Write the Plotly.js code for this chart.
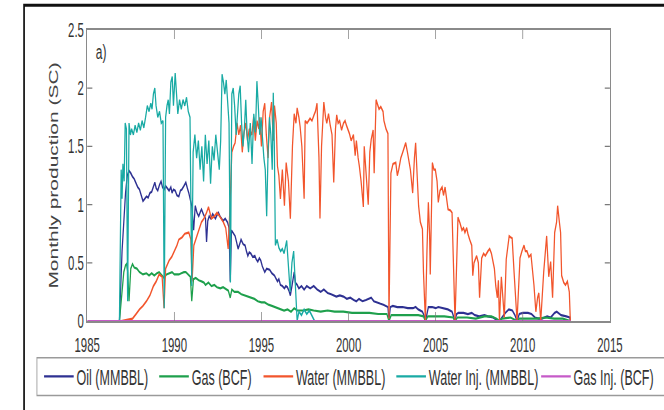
<!DOCTYPE html>
<html>
<head>
<meta charset="utf-8">
<script src="https://cdn.plot.ly/plotly-3.0.1.min.js"></script>
<style>
  html, body { margin: 0; padding: 0; background: #fff; overflow: hidden; }
  #wrap { width: 664px; height: 410px; overflow: hidden; position: relative; background: #fff; }
  /* the figure is laid out wide and then condensed horizontally */
  #chart { width: 1165px; height: 410px; transform: scaleX(0.57); transform-origin: 0 0; }
</style>
</head>
<body>
<div id="wrap"><div id="chart"></div></div>
<script>
// Monthly production, [year, value] pairs (SC units)
const oil = [
  [1986.85,0],[1987.0,0.6],[1987.1,0.85],[1987.2,1.1],[1987.3,1.25],[1987.4,1.29],[1987.5,1.27],[1987.6,1.24],
  [1987.7,1.22],[1987.8,1.18],[1987.9,1.15],[1988.0,1.13],[1988.1,1.08],[1988.2,1.03],[1988.3,1.05],[1988.4,1.07],
  [1988.5,1.06],[1988.6,1.1],[1988.7,1.11],[1988.8,1.16],[1988.88,1.19],[1988.96,1.14],[1989.05,1.12],[1989.15,1.17],
  [1989.24,1.2],[1989.32,1.15],[1989.41,1.13],[1989.5,1.16],[1989.6,1.14],[1989.7,1.12],[1989.8,1.15],[1989.87,1.1],
  [1989.95,1.13],[1990.05,1.12],[1990.15,1.08],[1990.26,1.07],[1990.35,1.12],[1990.43,1.13],[1990.55,1.16],[1990.66,1.19],
  [1990.75,1.14],[1990.83,1.1],[1990.92,1.04],[1991.0,0.99],[1991.11,0.78],[1991.2,0.99],[1991.3,0.93],[1991.4,0.9],
  [1991.5,0.94],[1991.56,0.96],[1991.66,0.92],[1991.79,0.88],[1991.85,0.68],[1991.92,0.86],[1992.0,0.9],[1992.1,0.88],
  [1992.2,0.92],[1992.36,0.88],[1992.45,0.91],[1992.53,0.93],[1992.62,0.9],[1992.7,0.88],[1992.8,0.86],[1992.92,0.88],
  [1993.05,0.85],[1993.14,0.8],[1993.21,0.34],[1993.28,0.78],[1993.38,0.76],[1993.49,0.73],[1993.57,0.68],[1993.66,0.62],
  [1993.75,0.66],[1993.83,0.7],[1993.95,0.66],[1994.06,0.65],[1994.14,0.6],[1994.22,0.56],[1994.3,0.59],[1994.39,0.58],
  [1994.5,0.55],[1994.62,0.56],[1994.7,0.53],[1994.79,0.51],[1994.88,0.54],[1994.96,0.52],[1995.05,0.47],[1995.19,0.42],
  [1995.3,0.45],[1995.47,0.44],[1995.6,0.41],[1995.75,0.39],[1995.85,0.36],[1995.92,0.34],[1996.0,0.36],[1996.09,0.31],
  [1996.2,0.3],[1996.32,0.28],[1996.4,0.3],[1996.49,0.29],[1996.58,0.26],[1996.66,0.22],[1996.75,0.3],[1996.88,0.42],
  [1996.95,0.33],[1997.05,0.31],[1997.15,0.28],[1997.3,0.3],[1997.45,0.27],[1997.6,0.3],[1997.8,0.28],[1998.0,0.3],
  [1998.2,0.27],[1998.4,0.25],[1998.58,0.27],[1998.8,0.24],[1999.0,0.23],[1999.15,0.22],[1999.3,0.21],[1999.5,0.22],
  [1999.71,0.21],[1999.9,0.19],[2000.1,0.2],[2000.3,0.18],[2000.45,0.17],[2000.6,0.19],[2000.8,0.17],[2001.0,0.18],
  [2001.3,0.2],[2001.45,0.17],[2001.6,0.16],[2001.8,0.15],[2002.0,0.14],[2002.15,0.13],[2002.26,0.12],[2002.32,0.01],
  [2002.4,0.12],[2002.54,0.13],[2002.8,0.12],[2003.1,0.12],[2003.4,0.11],[2003.7,0.11],[2003.85,0.12],[2004.0,0.1],
  [2004.24,0.08],[2004.35,0.04],[2004.41,0],[2004.5,0.06],[2004.58,0.12],[2004.8,0.12],[2005.0,0.11],[2005.15,0.12],
  [2005.4,0.11],[2005.7,0.1],[2005.94,0.08],[2006.05,0.03],[2006.11,0],[2006.2,0.06],[2006.3,0.07],[2006.6,0.07],
  [2006.85,0.06],[2007.07,0.07],[2007.25,0.05],[2007.5,0.04],[2007.8,0.05],[2008.0,0.04],[2008.3,0.03],[2008.5,0.01],
  [2008.66,0],[2008.8,0.03],[2009.0,0.07],[2009.2,0.1],[2009.4,0.09],[2009.55,0.05],[2009.67,0],[2009.8,0.06],
  [2010.0,0.07],[2010.3,0.07],[2010.5,0.06],[2010.7,0.03],[2010.9,0.02],[2011.1,0.02],[2011.4,0.04],[2011.6,0.03],
  [2011.83,0.07],[2011.95,0.08],[2012.2,0.05],[2012.5,0.04],[2012.7,0.03],[2012.73,0]
];

const gas = [
  [1986.85,0],[1987.0,0.25],[1987.1,0.42],[1987.2,0.48],[1987.26,0.49],[1987.32,0.43],[1987.4,0.17],[1987.5,0.45],
  [1987.6,0.49],[1987.7,0.46],[1987.85,0.45],[1988.0,0.42],[1988.2,0.4],[1988.4,0.41],[1988.55,0.39],[1988.7,0.41],
  [1988.85,0.39],[1989.0,0.41],[1989.13,0.42],[1989.3,0.39],[1989.41,0.37],[1989.55,0.4],[1989.7,0.41],[1989.87,0.42],
  [1990.0,0.4],[1990.26,0.4],[1990.4,0.41],[1990.55,0.42],[1990.66,0.42],[1990.8,0.4],[1990.92,0.38],[1991.0,0.17],
  [1991.1,0.36],[1991.23,0.37],[1991.4,0.35],[1991.56,0.34],[1991.7,0.33],[1991.79,0.31],[1991.96,0.33],[1992.13,0.3],
  [1992.3,0.31],[1992.45,0.29],[1992.64,0.28],[1992.8,0.29],[1992.92,0.28],[1993.1,0.26],[1993.21,0.2],[1993.3,0.27],
  [1993.45,0.25],[1993.66,0.25],[1993.85,0.23],[1994.06,0.22],[1994.2,0.21],[1994.39,0.2],[1994.6,0.19],[1994.79,0.17],
  [1995.0,0.16],[1995.19,0.16],[1995.4,0.14],[1995.6,0.13],[1995.75,0.12],[1995.92,0.11],[1996.1,0.1],[1996.3,0.09],
  [1996.5,0.1],[1996.7,0.08],[1996.88,0.11],[1997.05,0.09],[1997.4,0.09],[1997.7,0.1],[1998.0,0.09],[1998.4,0.08],
  [1998.8,0.09],[1999.2,0.08],[1999.7,0.08],[2000.2,0.07],[2000.7,0.07],[2001.2,0.07],[2001.7,0.06],[2002.2,0.06],
  [2002.32,0],[2002.45,0.05],[2003.0,0.05],[2003.5,0.05],[2004.0,0.05],[2004.3,0.04],[2004.41,0],[2004.55,0.04],
  [2005.0,0.04],[2005.5,0.04],[2006.0,0.03],[2006.11,0],[2006.25,0.03],[2006.8,0.03],[2007.3,0.02],[2007.8,0.04],
  [2008.2,0.04],[2008.5,0.02],[2008.66,0],[2008.8,0.02],[2009.3,0.03],[2009.67,0],[2009.8,0.02],[2010.3,0.02],
  [2010.8,0.02],[2011.3,0.03],[2011.8,0.02],[2012.3,0.02],[2012.73,0]
];

const water = [
  [1986.95,0],[1987.3,0.01],[1987.6,0.02],[1987.8,0.06],[1988.0,0.1],[1988.2,0.13],[1988.4,0.17],[1988.6,0.22],
  [1988.8,0.3],[1988.96,0.34],[1989.13,0.4],[1989.3,0.38],[1989.41,0.11],[1989.5,0.45],[1989.7,0.52],[1989.85,0.55],
  [1990.0,0.6],[1990.15,0.65],[1990.26,0.7],[1990.45,0.72],[1990.6,0.75],[1990.83,0.76],[1990.95,0.7],[1991.02,0.34],
  [1991.12,0.65],[1991.23,0.7],[1991.4,0.78],[1991.56,0.85],[1991.7,0.88],[1991.85,0.93],[1991.96,0.98],[1992.05,0.92],
  [1992.13,0.88],[1992.3,0.9],[1992.45,0.93],[1992.6,0.9],[1992.81,0.85],[1992.95,0.8],[1993.09,0.62],[1993.2,1.0],
  [1993.3,1.45],[1993.4,1.5],[1993.49,1.53],[1993.6,1.7],[1993.7,1.6],[1993.8,1.68],[1993.9,1.45],[1994.0,1.62],
  [1994.1,1.7],[1994.2,1.55],[1994.3,1.65],[1994.45,1.6],[1994.55,1.75],[1994.65,1.55],[1994.75,1.72],[1994.85,1.65],
  [1994.9,1.75],[1995.0,1.5],[1995.1,1.8],[1995.19,1.87],[1995.28,1.6],[1995.38,1.4],[1995.47,1.75],[1995.58,1.88],
  [1995.68,1.55],[1995.75,1.85],[1995.85,1.7],[1995.92,1.33],[1996.0,1.25],[1996.09,1.05],[1996.2,1.3],[1996.32,0.99],
  [1996.42,1.36],[1996.55,1.2],[1996.66,0.88],[1996.78,1.5],[1996.88,1.78],[1996.98,1.7],[1997.05,1.83],[1997.15,1.75],
  [1997.22,1.67],[1997.32,1.5],[1997.45,1.05],[1997.51,1.72],[1997.62,1.7],[1997.79,1.74],[1997.9,1.72],[1998.02,1.77],
  [1998.1,1.8],[1998.19,1.87],[1998.26,1.6],[1998.3,1.41],[1998.36,0.88],[1998.45,1.5],[1998.58,1.88],[1998.68,1.75],
  [1998.75,1.7],[1998.85,1.78],[1998.95,1.68],[1999.05,1.6],[1999.15,1.19],[1999.25,1.65],[1999.32,1.77],[1999.4,1.7],
  [1999.49,1.72],[1999.6,1.64],[1999.71,1.7],[1999.8,1.72],[1999.88,1.68],[2000.05,1.61],[2000.15,1.55],[2000.28,1.6],
  [2000.38,1.42],[2000.45,1.55],[2000.55,1.4],[2000.62,1.33],[2000.72,1.2],[2000.85,0.98],[2000.9,1.5],[2001.0,1.3],
  [2001.13,1.0],[2001.22,1.45],[2001.3,1.56],[2001.41,1.64],[2001.47,1.27],[2001.58,1.9],[2001.68,1.85],[2001.75,1.82],
  [2001.85,1.84],[2001.98,1.8],[2002.03,1.72],[2002.15,1.65],[2002.26,1.61],[2002.32,0.02],[2002.43,1.27],[2002.55,1.35],
  [2002.71,1.36],[2002.8,1.25],[2002.88,1.3],[2003.0,1.4],[2003.11,1.45],[2003.2,1.5],[2003.28,1.53],[2003.38,1.45],
  [2003.45,1.39],[2003.55,1.3],[2003.68,1.1],[2003.78,1.4],[2003.85,1.53],[2003.95,1.2],[2004.02,0.99],[2004.12,0.85],
  [2004.24,0.79],[2004.3,0.42],[2004.41,0],[2004.5,0.6],[2004.58,1.02],[2004.65,0.75],[2004.69,0.4],[2004.81,1.36],
  [2004.9,1.3],[2004.98,1.3],[2005.08,1.2],[2005.15,1.02],[2005.25,1.12],[2005.37,1.15],[2005.45,1.08],[2005.54,1.15],
  [2005.62,1.05],[2005.71,0.96],[2005.85,0.95],[2005.94,0.93],[2006.11,0],[2006.28,0.89],[2006.4,0.84],[2006.51,0.78],
  [2006.6,0.8],[2006.68,0.76],[2006.78,0.8],[2006.85,0.75],[2006.95,0.7],[2007.07,0.65],[2007.13,0.39],[2007.2,0.5],
  [2007.35,0.56],[2007.45,0.5],[2007.52,0.2],[2007.64,0.54],[2007.75,0.58],[2007.85,0.56],[2008.0,0.6],[2008.1,0.62],
  [2008.2,0.58],[2008.37,0.45],[2008.45,0.3],[2008.54,0.2],[2008.6,0.35],[2008.66,0],[2008.77,0.38],[2008.85,0.2],
  [2008.94,0.03],[2009.05,0.53],[2009.15,0.65],[2009.22,0.73],[2009.3,0.72],[2009.39,0.71],[2009.5,0.42],[2009.6,0.2],
  [2009.67,0],[2009.84,0.54],[2009.95,0.6],[2010.07,0.65],[2010.15,0.6],[2010.24,0.6],[2010.35,0.55],[2010.47,0.57],
  [2010.55,0.45],[2010.64,0.31],[2010.75,0.08],[2010.85,0.2],[2010.92,0.24],[2011.03,0],[2011.2,0.42],[2011.37,0.73],
  [2011.49,0.38],[2011.6,0.51],[2011.71,0.2],[2011.83,0.76],[2011.94,0.85],[2012.0,0.99],[2012.1,0.85],[2012.17,0.76],
  [2012.23,0.39],[2012.35,0.33],[2012.45,0.31],[2012.56,0.34],[2012.67,0.25],[2012.73,0]
];

const waterInj = [
  [1986.85,0],[1986.95,1.3],[1987.0,1.05],[1987.05,1.35],[1987.12,1.2],[1987.18,1.7],[1987.25,1.65],[1987.32,0.17],
  [1987.4,1.7],[1987.48,1.6],[1987.55,1.65],[1987.65,1.6],[1987.75,1.68],[1987.85,1.62],[1987.95,1.7],[1988.05,1.64],
  [1988.15,1.72],[1988.25,1.66],[1988.35,1.75],[1988.45,1.85],[1988.55,1.8],[1988.65,1.87],[1988.72,1.82],[1988.8,1.95],
  [1988.88,2.0],[1988.95,1.85],[1989.05,1.75],[1989.15,1.8],[1989.25,1.7],[1989.35,1.72],[1989.42,0.11],[1989.5,1.75],
  [1989.58,1.85],[1989.65,1.9],[1989.72,1.78],[1989.8,2.05],[1989.88,2.1],[1989.95,1.85],[1990.05,2.13],[1990.12,1.95],
  [1990.2,1.78],[1990.3,1.9],[1990.4,1.82],[1990.5,1.9],[1990.6,1.85],[1990.7,1.92],[1990.8,1.8],[1990.9,1.75],
  [1991.0,0.3],[1991.08,1.45],[1991.18,1.6],[1991.28,1.4],[1991.38,1.55],[1991.48,1.3],[1991.58,1.5],[1991.68,1.2],
  [1991.78,1.6],[1991.88,1.35],[1991.98,1.55],[1992.08,1.18],[1992.18,1.5],[1992.28,1.38],[1992.38,1.6],[1992.48,1.45],
  [1992.58,1.3],[1992.66,1.55],[1992.74,2.12],[1992.82,2.05],[1992.9,1.95],[1992.98,2.07],[1993.06,1.9],[1993.14,1.7],
  [1993.22,0.33],[1993.3,1.95],[1993.38,2.0],[1993.46,1.85],[1993.55,1.6],[1993.62,1.75],[1993.7,1.95],[1993.78,2.02],
  [1993.86,1.7],[1993.94,1.5],[1994.02,1.65],[1994.1,1.9],[1994.18,1.6],[1994.26,1.45],[1994.36,1.7],[1994.46,1.35],
  [1994.56,1.78],[1994.66,1.62],[1994.74,2.06],[1994.82,1.85],[1994.9,1.6],[1994.98,1.75],[1995.06,1.55],[1995.14,1.4],
  [1995.22,1.3],[1995.3,0.9],[1995.38,1.45],[1995.46,1.75],[1995.54,1.6],[1995.62,1.3],[1995.68,1.96],[1995.74,1.5],
  [1995.8,0.65],[1995.9,0.7],[1996.0,0.63],[1996.1,0.6],[1996.2,0.62],[1996.3,0.58],[1996.45,0.69],[1996.55,0.45],
  [1996.65,0.25],[1996.75,0.5],[1996.85,0.6],[1996.95,0.3],[1997.05,0],[1997.15,0.08],[1997.3,0.05],[1997.45,0.1],
  [1997.6,0.06],[1997.75,0.09],[1997.9,0.04],[1998.05,0]
];

const gasInj = [[1985.0,0],[2012.75,0]];

const seriesNames  = ['Oil (MMBBL)', 'Gas (BCF)', 'Water (MMBBL)', 'Water Inj. (MMBBL)', 'Gas Inj. (BCF)'];
const seriesColors = ['#2e3192', '#1ea04c', '#f2552c', '#19aaa4', '#c65ac8'];
const xTickVals = [1985, 1990, 1995, 2000, 2005, 2010, 2015];
const xTickText = ['1985', '1990', '1995', '2000', '2005', '2010', '2015'];
const yTickVals = [0, 0.5, 1, 1.5, 2, 2.5];
const yTickText = ['0', '0.5', '1', '1.5', '2', '2.5'];

const seriesData = [oil, gas, water, waterInj, gasInj];
// width reserved for each legend entry's label, so entries keep their spacing
const legendWidths = [135, 116, 166, 196, 142];
// the last entry sits in a second legend group so the row never wraps
const legendGroup = ['legend', 'legend', 'legend', 'legend', 'legend2'];

const FONT = 'Liberation Sans, Arial, Helvetica, sans-serif';

const traces = seriesData.map((s, i) => ({
  type: 'scatter',
  mode: 'lines',
  name: seriesNames[i],
  x: s.map(p => p[0]),
  y: s.map(p => p[1]),
  line: { color: seriesColors[i], width: 2.2 },
  legend: legendGroup[i],
  legendwidth: legendWidths[i],
  hoverinfo: 'skip'
}));

const axisCommon = {
  showgrid: false,
  zeroline: false,
  showline: true,
  linecolor: '#8a8a8a',
  linewidth: 1.8,
  mirror: 'ticks',
  ticks: 'inside',
  ticklen: 9,
  tickwidth: 1.2,
  tickcolor: '#7a7a7a'
};

const legendCommon = {
  orientation: 'h',
  yanchor: 'middle',
  y: -0.191,
  xanchor: 'left',
  bgcolor: 'rgba(0,0,0,0)',
  borderwidth: 0,
  font: { family: FONT, size: 22, color: '#333' },
  itemwidth: 52,
  traceorder: 'normal'
};

const layout = {
  width: 1165,
  height: 410,
  margin: { l: 152.6, r: 82.5, t: 30, b: 87, pad: 0 },
  paper_bgcolor: '#ffffff',
  plot_bgcolor: '#ffffff',
  showlegend: true,
  xaxis: Object.assign({}, axisCommon, {
    range: [1985, 2015],
    tickmode: 'array', tickvals: xTickVals, ticktext: xTickText,
    tickfont: { family: FONT, size: 20, color: '#333' },
    ticklabelstandoff: 5
  }),
  yaxis: Object.assign({}, axisCommon, {
    range: [0, 2.5],
    tickmode: 'array', tickvals: yTickVals, ticktext: yTickText,
    tickfont: { family: FONT, size: 20, color: '#333' },
    title: { text: 'Monthly production (SC)', font: { family: FONT, size: 21, color: '#444' }, standoff: 12 }
  }),
  legend: Object.assign({}, legendCommon, { x: -0.088 }),
  legend2: Object.assign({}, legendCommon, { x: 0.863 }),
  annotations: [{
    xref: 'paper', yref: 'paper', x: 0.014, y: 0.925,
    xanchor: 'left', yanchor: 'middle', showarrow: false,
    text: 'a)', font: { family: FONT, size: 21, color: '#333' }
  }],
  shapes: [
    // outer figure frame
    { type: 'rect', xref: 'paper', yref: 'paper', x0: -0.1208, x1: 1.3, y0: -0.45, y1: 1.0853,
      line: { color: '#111', width: 3 }, fillcolor: 'rgba(0,0,0,0)', layer: 'above' },
    // legend box
    { type: 'rect', xref: 'paper', yref: 'paper', x0: -0.0962, x1: 1.3, y0: -0.256, y1: -0.1263,
      line: { color: '#9a9a9a', width: 1.5 }, fillcolor: 'rgba(0,0,0,0)', layer: 'above' }
  ]
};

Plotly.newPlot('chart', traces, layout, { staticPlot: true, displayModeBar: false });
</script>
</body>
</html>
